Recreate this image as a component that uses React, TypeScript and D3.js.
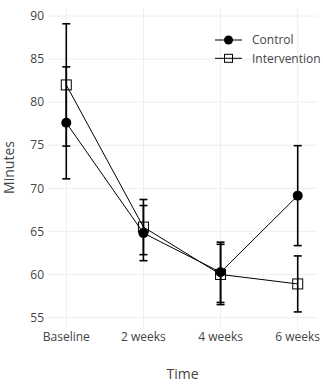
import { scaleLinear, scalePoint, line } from "d3";

const categories = ["Baseline", "2 weeks", "4 weeks", "6 weeks"];
const controlMean = [77.6, 64.8, 60.25, 69.15];
const controlErr = [6.5, 3.2, 3.5, 5.8];
const interventionMean = [82.0, 65.5, 60.0, 58.9];
const interventionErr = [7.1, 3.2, 3.5, 3.25];
const yTicks = [55, 60, 65, 70, 75, 80, 85, 90];

const W = 323;
const H = 389;
const plot = { left: 48, right: 317, top: 8, bottom: 327 };
const font = "'Open Sans', 'Noto Sans', sans-serif";
const textColor = "#444";

export default function App() {
  const x = scalePoint<string>()
    .domain(categories)
    .range([plot.left - 1, plot.right])
    .padding(0.25);
  const y = scaleLinear().domain([53.9, 90.93]).range([plot.bottom, plot.top]);

  const path = line<number>()
    .x((_, i) => x(categories[i])!)
    .y((d) => y(d));

  const series = [
    { name: "Control", mean: controlMean, err: controlErr, symbol: "circle" },
    { name: "Intervention", mean: interventionMean, err: interventionErr, symbol: "square" },
  ];

  const marker = (sym: string, cx: number, cy: number, s: number) =>
    sym === "circle" ? (
      <circle cx={cx} cy={cy} r={s / 2} fill="#000" />
    ) : (
      <rect x={cx - s / 2} y={cy - s / 2} width={s} height={s} fill="none" stroke="#000" strokeWidth={1} />
    );

  return (
    <svg
      width={W}
      height={H}
      style={{ position: "absolute", left: 0, top: 0, background: "#fff", fontFamily: font }}
    >
      {/* grid */}
      {yTicks.map((t) => (
        <line key={t} x1={plot.left} x2={plot.right} y1={y(t)} y2={y(t)} stroke="#eee" strokeWidth={1} />
      ))}
      {categories.map((c) => (
        <line key={c} x1={x(c)} x2={x(c)} y1={plot.top} y2={plot.bottom} stroke="#eee" strokeWidth={1} />
      ))}

      {/* axes labels */}
      {yTicks.map((t) => (
        <text key={t} x={44} y={y(t)} dy="0.35em" textAnchor="end" fontSize={12} fill={textColor}>
          {t}
        </text>
      ))}
      {categories.map((c) => (
        <text key={c} x={x(c)} y={337} dy="0.35em" textAnchor="middle" fontSize={12} fill={textColor}>
          {c}
        </text>
      ))}
      <text x={(plot.left + plot.right) / 2} y={374} dy="0.35em" textAnchor="middle" fontSize={14} fill={textColor}>
        Time
      </text>
      <text
        transform={`translate(9,${(plot.top + plot.bottom) / 2}) rotate(-90)`}
        textAnchor="middle"
        dy="0.35em"
        fontSize={14}
        fill={textColor}
      >
        Minutes
      </text>

      {/* traces */}
      {series.map((s) => (
        <g key={s.name}>
          <path d={path(s.mean)!} fill="none" stroke="#000" strokeWidth={1} />
          {s.mean.map((m, i) => {
            const cx = x(categories[i])!;
            const top = y(m + s.err[i]);
            const bot = y(m - s.err[i]);
            return (
              <g key={i} stroke="#000" strokeWidth={1.6}>
                <line x1={cx} x2={cx} y1={top} y2={bot} />
                <line x1={cx - 4} x2={cx + 4} y1={top} y2={top} />
                <line x1={cx - 4} x2={cx + 4} y1={bot} y2={bot} />
              </g>
            );
          })}
          {s.mean.map((m, i) => (
            <g key={`m${i}`}>{marker(s.symbol, x(categories[i])!, y(m), 10)}</g>
          ))}
        </g>
      ))}

      {/* legend */}
      {series.map((s, i) => {
        const ly = 40 + i * 18.3;
        return (
          <g key={s.name}>
            <line x1={215} x2={242} y1={ly} y2={ly} stroke="#000" strokeWidth={1} />
            {marker(s.symbol, 228.5, ly, s.symbol === "circle" ? 9 : 8)}
            <text x={252} y={ly} dy="0.35em" fontSize={12} fill={textColor}>
              {s.name}
            </text>
          </g>
        );
      })}
    </svg>
  );
}
